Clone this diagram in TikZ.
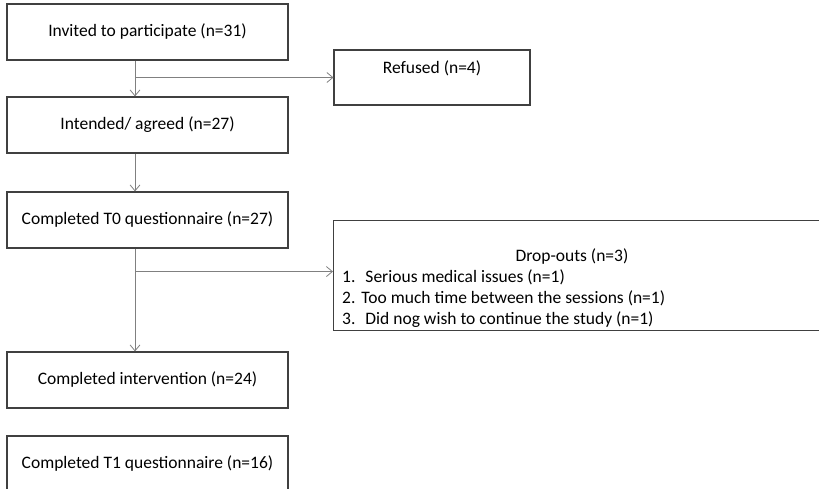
\documentclass[tikz,border=0pt]{standalone}
\usepackage{fontspec}
\setmainfont{Carlito}
\usetikzlibrary{arrows.meta,positioning}

\tikzset{
  box/.style={draw=black!75,line width=1.1pt,rectangle,minimum width=281,minimum height=56,inner sep=0pt},
  arr/.style={draw=black!50,line width=0.8pt,-{Straight Barb[length=6pt,width=10pt]}}
}

\begin{document}
\begin{tikzpicture}[x=1pt,y=-1pt,font=\fontsize{17.5}{21}\selectfont]
      \useasboundingbox (0,0) rectangle (819,489);
      \clip (0,0) rectangle (819,489);
      % main column
      \node[box] (inv) at (147.5,32) {Invited to participate (n=31)};
      \node[box] (agr) at (147.5,125) {Intended/ agreed (n=27)};
      \node[box] (tzero) at (147.5,220) {Completed T0 questionnaire (n=27)};
      \node[box] (interv) at (147.5,380) {Completed intervention (n=24)};
      \node[box] (tone) at (147.5,464) {Completed T1 questionnaire (n=16)};
      % side boxes
      \node[box,minimum width=196,minimum height=55,text height=23.5,text depth=31.5] (ref) at (432,77.5) {Refused (n=4)};
      \node[box,minimum width=500,minimum height=110,anchor=north west] (drop) at (333,220) {};
      \node (drophead) at (572,257) {Drop-outs (n=3)};
      \node[anchor=north west,align=left,inner sep=0pt] (droplist) at (342,269)
        {1.\hspace{10pt}Serious medical issues (n=1)\\
         2.\hspace{6pt}Too much time between the sessions (n=1)\\
         3.\hspace{10pt}Did nog wish to continue the study (n=1)};
      % arrows
      \draw[arr] ([xshift=-12.5]inv.south) -- ([xshift=-12.5]agr.north);
      \draw[arr] ([xshift=-12.5]inv.south |- ref.west) -- (ref.west);
      \draw[arr] ([xshift=-12.5]agr.south) -- ([xshift=-12.5]tzero.north);
      \draw[arr] ([xshift=-12.5]tzero.south) -- ([xshift=-12.5]interv.north);
      \draw[arr] ([xshift=-12.5,yshift=4]tzero.south |- drop.west) -- ([yshift=4]drop.west);
    \end{tikzpicture}
\end{document}
